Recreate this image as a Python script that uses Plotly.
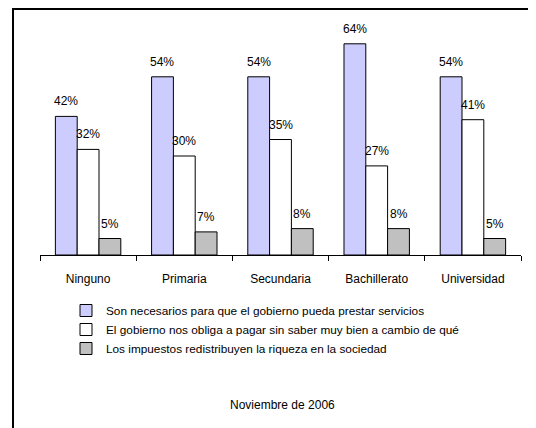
import plotly.graph_objects as go

categories = ["Ninguno", "Primaria", "Secundaria", "Bachillerato", "Universidad"]
series_names = [
    "Son necesarios para que el gobierno pueda prestar servicios",
    "El gobierno nos obliga a pagar sin saber muy bien a cambio de qué",
    "Los impuestos redistribuyen la riqueza en la sociedad",
]
necesarios = [42, 54, 54, 64, 54]
obliga = [32, 30, 35, 27, 41]
redistribuyen = [5, 7, 8, 8, 5]
series_values = [necesarios, obliga, redistribuyen]
colors = ["#CCCCFF", "#FFFFFF", "#C0C0C0"]
footer = "Noviembre de 2006"

# page body has an 8px default margin; figure coords = window coords - 8
OFF = 8
W, H = 536 - OFF, 428 - OFF
ml, mr, mt, mb = 40 - OFF, 15, 24 - OFF, 173
ymax = 70
FONT = "Liberation Sans, Arial, sans-serif"

fig = go.Figure()
for name, vals, col in zip(series_names, series_values, colors):
    fig.add_trace(go.Bar(
        x=categories, y=vals, name=name,
        marker=dict(color=col, line=dict(color="#000000", width=1)),
        hoverinfo="skip",
    ))

plot_w = W - ml - mr
plot_h = H - mt - mb
bargap = 0.32
bar_px = plot_w / len(categories) * (1 - bargap) / 3
annotations = []
for i, vals in enumerate(series_values):
    for c, v in zip(categories, vals):
        annotations.append(dict(
            x=c, y=v, xref="x", yref="y", text=f"{v}%", showarrow=False,
            xanchor="center", yanchor="bottom", xshift=(i - 1) * bar_px, yshift=6,
            font=dict(family=FONT, size=12, color="#000000"),
        ))

def py(win_y):
    return (H - mb - (win_y - OFF)) / plot_h

def px(win_x):
    return (win_x - OFF - ml) / plot_w

annotations.append(dict(
    x=px(282), y=py(405), xref="paper", yref="paper", text=footer,
    showarrow=False, xanchor="center", yanchor="middle",
    font=dict(family=FONT, size=12, color="#000000"),
))

fig.update_layout(
    width=W, height=H,
    margin=dict(l=ml, r=mr, t=mt, b=mb),
    paper_bgcolor="white", plot_bgcolor="white",
    barmode="group", bargap=bargap, bargroupgap=0,
    font=dict(family=FONT, size=12, color="#000000"),
    xaxis=dict(
        showline=True, linecolor="#000000", linewidth=1,
        ticks="outside", tickson="boundaries", ticklen=5, tickcolor="#000000",
        ticklabelstandoff=13,
        showgrid=False, tickfont=dict(family=FONT, size=12, color="#000000"),
    ),
    yaxis=dict(range=[0, ymax], visible=False, showgrid=False),
    showlegend=True,
    legend=dict(
        x=px(66), y=py(296), xanchor="left", yanchor="top",
        orientation="v", font=dict(family=FONT, size=11.8, color="#000000"),
        bgcolor="rgba(0,0,0,0)", tracegroupgap=0,
    ),
    annotations=annotations,
    shapes=[dict(
        type="rect", xref="paper", yref="paper",
        x0=px(13), x1=1.2, y0=-2, y1=py(OFF + 1),
        line=dict(color="#000000", width=2), fillcolor="rgba(0,0,0,0)", layer="above",
    )],
)

fig.write_html("out.html")
